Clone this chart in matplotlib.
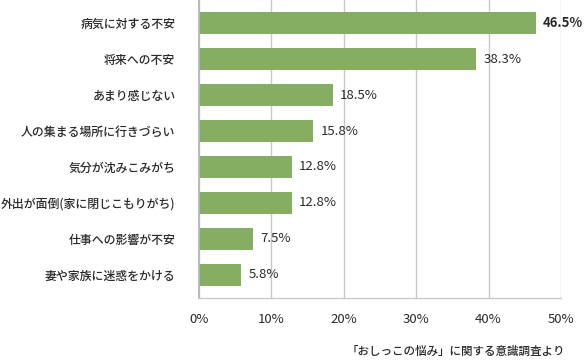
import matplotlib.pyplot as plt
import numpy as np

plt.rcParams['font.family'] = ['Noto Sans CJK JP', 'DejaVu Sans']

categories = ["病気に対する不安", "将来への不安", "あまり感じない", "人の集まる場所に行きづらい",
              "気分が沈みこみがち", "外出が面倒(家に閉じこもりがち)", "仕事への影響が不安", "妻や家族に迷惑をかける"]
values = [46.5, 38.3, 18.5, 15.8, 12.8, 12.8, 7.5, 5.8]
xticks = [0, 10, 20, 30, 40, 50]
source = "「おしっこの悩み」に関する意識調査より"

fig = plt.figure(figsize=(5.86, 3.63), dpi=100)
ax = fig.add_axes([199/586, 1 - 298/363, 362/586, 298/363])

y = np.arange(len(categories))
ax.barh(y, values, height=0.61, color="#86ae62", zorder=2)

ax.set_xlim(0, 50)
ax.set_ylim(7.64, -0.64)
ax.set_yticks(y)
ax.set_yticklabels(categories, fontsize=8.6, color="#2a2a2a", fontweight="medium")
ax.set_xticks(xticks)
ax.set_xticklabels([f"{t}%" for t in xticks], fontsize=9.5, color="#2a2a2a")
ax.tick_params(axis="y", length=0, pad=17)
ax.tick_params(axis="x", length=0, pad=11)

ax.grid(axis="x", color="#c8c8c8", linewidth=1, zorder=1)
for s in ["top", "right"]:
    ax.spines[s].set_visible(False)
ax.spines["left"].set_color("#b8b8b8")
ax.spines["left"].set_linewidth(1.3)
ax.spines["bottom"].set_color("#c8c8c8")
ax.spines["bottom"].set_linewidth(1)

for i, v in enumerate(values):
    ax.text(v + 1.0, i, f"{v}%", va="center", ha="left", fontsize=9.5, color="#2a2a2a",
            fontweight="bold" if i == 0 else "normal")

fig.text(565/586, 1 - 351/363, source, ha="right", va="center", fontsize=8.3, color="#2a2a2a",
         fontweight="medium")

fig.savefig("out.png", dpi=100)
